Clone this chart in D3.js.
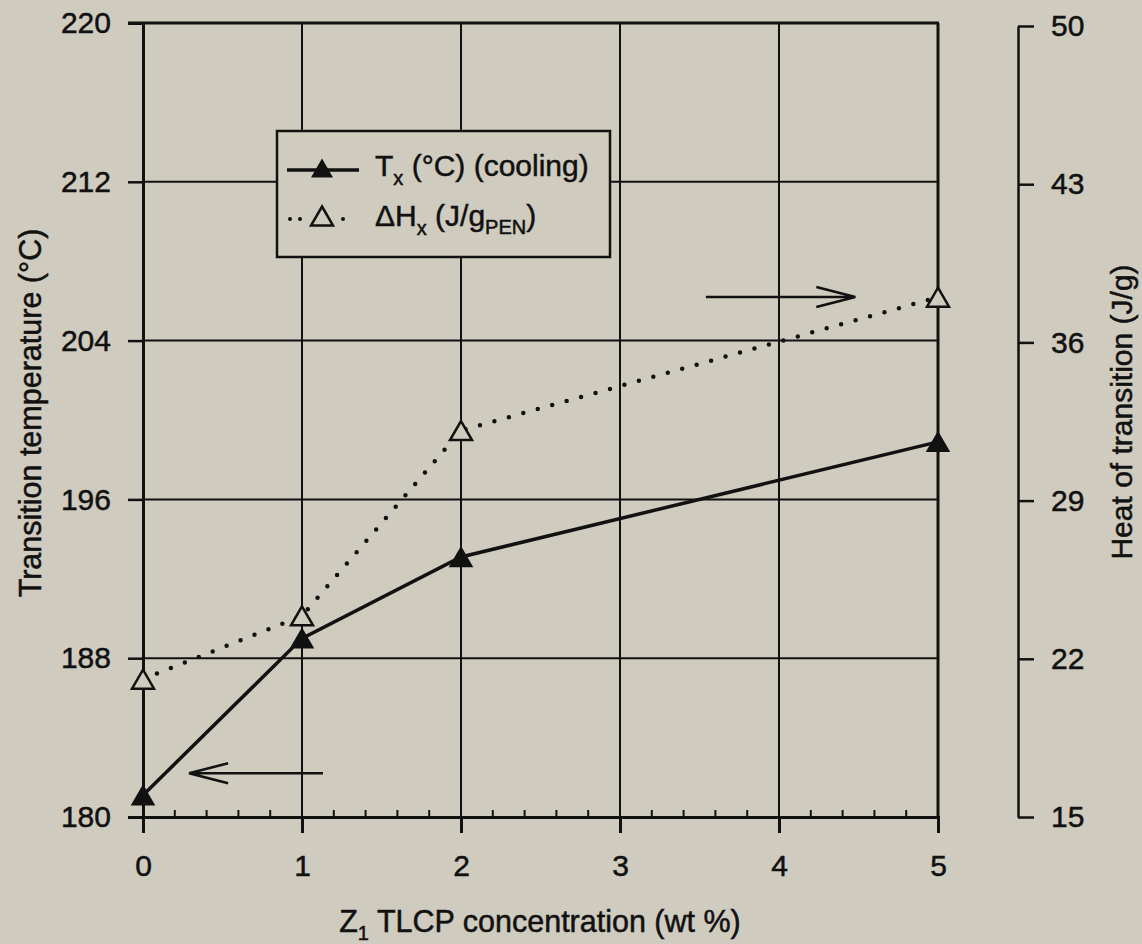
<!DOCTYPE html>
<html>
<head>
<meta charset="utf-8">
<script src="https://cdn.jsdelivr.net/npm/d3@7"></script>
<style>
  html, body { margin: 0; padding: 0; background: #cfcbbe; }
  svg { display: block; }
  text { font-family: "Liberation Sans", Arial, sans-serif; fill: #111; stroke: #111; stroke-width: 0.5px; }
</style>
</head>
<body>
<svg id="chart" width="1142" height="944"></svg>
<script>
// Z1 TLCP concentration (wt %)
const concentration = [0, 1, 2, 5];
// Transition temperature on cooling, °C (left axis)
const tCooling = [181.1, 189.0, 193.1, 198.9];
// Heat of transition, J/g PEN (right axis)
const heatTransition = [21.1, 23.9, 32.1, 38.0];

const xTicks = [0, 1, 2, 3, 4, 5];
const leftTicks = [180, 188, 196, 204, 212, 220];
const rightTicks = [15, 22, 29, 36, 43, 50];

const bg = "#cfcbbe";
const ink = "#111";
const svg = d3.select("#chart");

const x = d3.scaleLinear().domain([0, 5]).range([143, 938]);
const yL = d3.scaleLinear().domain([180, 220]).range([817, 23]);
const yR = d3.scaleLinear().domain([15, 50]).range([817, 26]);

svg.append("rect").attr("width", 1142).attr("height", 944).attr("fill", bg);

// grid lines
const g = svg.append("g");
g.selectAll("line.hg").data(leftTicks.slice(1, -1)).join("line")
  .attr("x1", x(0)).attr("x2", x(5))
  .attr("y1", d => yL(d)).attr("y2", d => yL(d))
  .attr("stroke", ink).attr("stroke-width", 2);
g.selectAll("line.vg").data(xTicks.slice(1, -1)).join("line")
  .attr("x1", d => x(d)).attr("x2", d => x(d))
  .attr("y1", yL(220)).attr("y2", yL(180))
  .attr("stroke", ink).attr("stroke-width", 2);

// plot frame top and right
g.append("line").attr("x1", x(0) - 15).attr("x2", x(5) + 1)
  .attr("y1", yL(220)).attr("y2", yL(220)).attr("stroke", ink).attr("stroke-width", 3);
g.append("line").attr("x1", x(5)).attr("x2", x(5))
  .attr("y1", yL(220)).attr("y2", yL(180)).attr("stroke", ink).attr("stroke-width", 3);

const tickFont = 30;

// left axis
const left = svg.append("g").attr("transform", `translate(${x(0)},0)`)
  .call(d3.axisLeft(yL).tickValues(leftTicks).tickSize(15).tickPadding(17).tickFormat(d3.format("d")));
left.select(".domain").attr("stroke", ink).attr("stroke-width", 3);
left.selectAll(".tick line").attr("stroke", ink).attr("stroke-width", 2.5);
left.selectAll(".tick text").attr("font-size", tickFont).attr("font-family", "Liberation Sans, Arial, sans-serif").attr("fill", ink);

// bottom axis with minor ticks
const minor = d3.range(0, 5.001, 0.2).filter(v => Math.abs(v - Math.round(v)) > 1e-6);
svg.append("g").selectAll("line").data(minor).join("line")
  .attr("x1", d => x(d)).attr("x2", d => x(d))
  .attr("y1", yL(180)).attr("y2", yL(180) - 7)
  .attr("stroke", ink).attr("stroke-width", 2);
const bottom = svg.append("g").attr("transform", `translate(0,${yL(180)})`)
  .call(d3.axisBottom(x).tickValues(xTicks).tickSize(16).tickPadding(22).tickFormat(d3.format("d")));
bottom.select(".domain").attr("stroke", ink).attr("stroke-width", 3);
bottom.selectAll(".tick line").attr("stroke", ink).attr("stroke-width", 3);
bottom.selectAll(".tick text").attr("font-size", tickFont).attr("font-family", "Liberation Sans, Arial, sans-serif").attr("fill", ink);

// right axis
const right = svg.append("g").attr("transform", "translate(1018,0)")
  .call(d3.axisRight(yR).tickValues(rightTicks).tickSize(16).tickPadding(17).tickSizeOuter(0).tickFormat(d3.format("d")));
right.select(".domain").attr("stroke", ink).attr("stroke-width", 2.5);
right.selectAll(".tick line").attr("stroke", ink).attr("stroke-width", 2.5);
right.selectAll(".tick text").attr("font-size", tickFont).attr("font-family", "Liberation Sans, Arial, sans-serif").attr("fill", ink);

// axis titles
svg.append("text").attr("transform", "translate(41,413) rotate(-90)")
  .attr("text-anchor", "middle").attr("font-size", 30.5).text("Transition temperature (°C)");
svg.append("text").attr("transform", "translate(1132,412) rotate(-90)")
  .attr("text-anchor", "middle").attr("font-size", 30).text("Heat of transition (J/g)");
const xt = svg.append("text").attr("x", 540).attr("y", 932)
  .attr("text-anchor", "middle").attr("font-size", 30.5);
xt.append("tspan").text("Z");
xt.append("tspan").attr("font-size", 20).attr("dy", 8).text("1");
xt.append("tspan").attr("dy", -8).text(" TLCP concentration (wt %)");

// triangle marker path centred on (0,0)
const tri = (w, h) => `M0,${-h / 2}L${w / 2},${h / 2}L${-w / 2},${h / 2}Z`;

// heat of transition: dotted line, open triangles
const heatPts = concentration.map((c, i) => [x(c), yR(heatTransition[i])]);
svg.append("path").attr("d", d3.line()(heatPts))
  .attr("fill", "none").attr("stroke", ink).attr("stroke-width", 4.5)
  .attr("stroke-linecap", "round").attr("stroke-dasharray", "0 15");
svg.append("g").selectAll("path").data(heatPts).join("path")
  .attr("transform", d => `translate(${d[0]},${d[1]})`)
  .attr("d", tri(22, 19)).attr("fill", bg).attr("stroke", ink).attr("stroke-width", 2.5);

// transition temperature: solid line, filled triangles
const tPts = concentration.map((c, i) => [x(c), yL(tCooling[i])]);
svg.append("path").attr("d", d3.line()(tPts))
  .attr("fill", "none").attr("stroke", ink).attr("stroke-width", 3.5);
svg.append("g").selectAll("path").data(tPts).join("path")
  .attr("transform", d => `translate(${d[0]},${d[1]})`)
  .attr("d", tri(22, 19)).attr("fill", ink).attr("stroke", ink).attr("stroke-width", 1.5);

// arrows pointing each series to its axis
function arrow(x0, x1, y) {
  const dir = Math.sign(x0 - x1);
  const p = d3.path();
  p.moveTo(x0, y); p.lineTo(x1, y);
  p.moveTo(x1 + dir * 39, y - 10); p.lineTo(x1, y); p.lineTo(x1 + dir * 39, y + 10);
  svg.append("path").attr("d", p.toString()).attr("fill", "none")
    .attr("stroke", ink).attr("stroke-width", 2.5);
}
arrow(x(1.132), x(0.29), yL(182.2));
arrow(x(3.54), x(4.48), yL(206.2));

// legend
const lg = svg.append("g");
lg.append("rect").attr("x", 277).attr("y", 131).attr("width", 333).attr("height", 126)
  .attr("fill", bg).attr("stroke", ink).attr("stroke-width", 2.5);
lg.append("line").attr("x1", 287).attr("x2", 359).attr("y1", 170).attr("y2", 170)
  .attr("stroke", ink).attr("stroke-width", 3.5);
lg.append("path").attr("transform", "translate(322,168)").attr("d", tri(22, 19)).attr("fill", ink);
lg.append("line").attr("x1", 290).attr("x2", 353).attr("y1", 219).attr("y2", 219)
  .attr("stroke", ink).attr("stroke-width", 4).attr("stroke-linecap", "round")
  .attr("stroke-dasharray", "0 10 0 43 0 10");
lg.append("path").attr("transform", "translate(322,216)").attr("d", tri(22, 19))
  .attr("fill", bg).attr("stroke", ink).attr("stroke-width", 2.5);

const l1 = lg.append("text").attr("x", 375).attr("y", 176).attr("font-size", 30);
l1.append("tspan").text("T");
l1.append("tspan").attr("font-size", 20).attr("dy", 9).text("x");
l1.append("tspan").attr("dy", -9).text(" (°C) (cooling)");
const l2 = lg.append("text").attr("x", 375).attr("y", 226).attr("font-size", 30);
l2.append("tspan").text("ΔH");
l2.append("tspan").attr("font-size", 20).attr("dy", 9).text("x");
l2.append("tspan").attr("dy", -9).text(" (J/g");
l2.append("tspan").attr("font-size", 20).attr("dy", 8).text("PEN");
l2.append("tspan").attr("dy", -8).text(")");
</script>
</body>
</html>
